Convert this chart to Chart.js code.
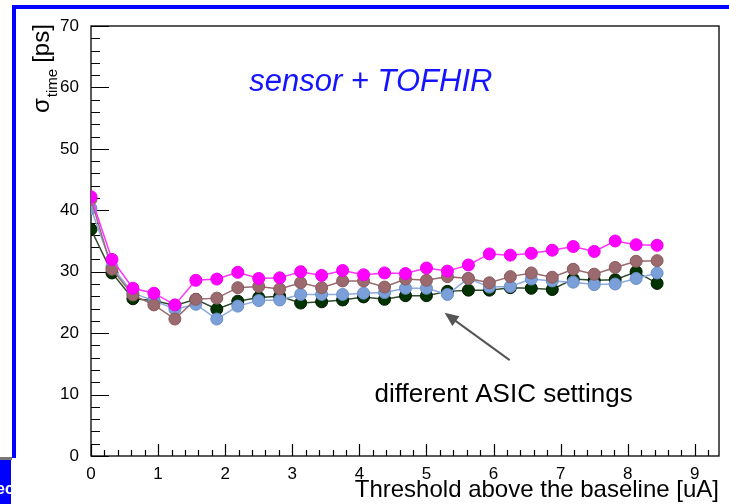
<!DOCTYPE html>
<html>
<head>
<meta charset="utf-8">
<script src="https://cdn.jsdelivr.net/npm/chart.js@4.4.1/dist/chart.umd.min.js"></script>
<style>
html, body { margin: 0; padding: 0; background: #fff; overflow: hidden; }
#wrap { position: relative; width: 729px; height: 504px; }
canvas { position: absolute; left: 0; top: 0; }
.bar { position: absolute; background: #0000ff; }
</style>
</head>
<body>
<div id="wrap">
  <canvas id="chart" width="729" height="504"></canvas>
  <div class="bar" style="left:12px;top:5px;width:717px;height:4px"></div>
  <div class="bar" style="left:12px;top:5px;width:4px;height:453px"></div>
  <div style="position:absolute;left:0;top:457px;width:12px;height:3px;background:#777"></div>
  <div class="bar" style="left:0;top:460px;width:11px;height:44px;overflow:hidden;color:#fff;font:bold 16px 'Liberation Sans';line-height:58px"><span style="position:relative;left:-4px">ec</span></div>
</div>
<script>
// threshold values (uA)
const thresholds = [0, 0.3125, 0.625, 0.9375, 1.25, 1.5625, 1.875, 2.1875, 2.5, 2.8125,
    3.125, 3.4375, 3.75, 4.0625, 4.375, 4.6875, 5, 5.3125, 5.625, 5.9375,
    6.25, 6.5625, 6.875, 7.1875, 7.5, 7.8125, 8.125, 8.4375];

// sigma_time (ps) for the four ASIC settings
const sigmaMagenta = [42.2, 32.0, 27.3, 26.5, 24.6, 28.6, 28.8, 29.9, 28.9, 29.0,
    30.0, 29.4, 30.2, 29.5, 29.8, 29.7, 30.6, 30.1, 31.1, 32.9,
    32.7, 33.0, 33.5, 34.1, 33.3, 35.0, 34.4, 34.3];
const sigmaBrown = [41.8, 30.4, 26.2, 24.6, 22.3, 25.5, 25.7, 27.4, 27.6, 27.2,
    28.2, 27.4, 28.5, 28.5, 27.5, 28.8, 28.6, 29.2, 28.9, 28.2,
    29.2, 29.8, 29.1, 30.4, 29.6, 30.7, 31.7, 31.8];
const sigmaBlue = [40.3, 30.8, 26.5, 25.3, 23.9, 24.7, 22.3, 24.4, 25.3, 25.4,
    26.3, 26.3, 26.3, 26.5, 26.6, 27.3, 27.3, 26.3, 28.9, 27.5,
    27.6, 28.8, 28.5, 28.3, 27.9, 28.0, 28.9, 29.8];
const sigmaGreen = [36.9, 29.8, 25.6, 25.3, 24.5, 25.5, 23.9, 25.2, 25.8, 26.0,
    24.9, 25.1, 25.4, 25.9, 25.5, 26.1, 26.1, 26.8, 27.0, 27.0,
    27.4, 27.3, 27.1, 28.8, 28.6, 28.7, 30.0, 28.1];

const xMin = 0, xMax = 9.36;
const yMin = 0, yMax = 70;

function series(values, color, line, edge) {
    return {
        data: thresholds.map((t, i) => ({ x: t, y: values[i] })),
        borderColor: line,
        backgroundColor: color,
        pointBackgroundColor: color,
        pointBorderColor: edge,
        pointBorderWidth: 1,
        pointRadius: 6,
        borderWidth: 1.5,
        tension: 0
    };
}

const font = "'Liberation Sans', Arial, sans-serif";

// ROOT style frame: inner ticks, titles, annotation
const rootFrame = {
    id: 'rootFrame',
    beforeDatasetsDraw(chart) {
        const { ctx, chartArea: a, scales: { x, y } } = chart;
        ctx.save();
        ctx.strokeStyle = '#000';
        ctx.lineWidth = 1.3;
        ctx.strokeRect(a.left, a.top, a.right - a.left, a.bottom - a.top);
        ctx.lineWidth = 1.2;
        ctx.beginPath();
        for (let i = 0; i * 0.2 <= xMax; i++) {
            const px = Math.round(x.getPixelForValue(i * 0.2)) + 0.5;
            const len = i % 5 === 0 ? 12 : 6;
            ctx.moveTo(px, a.bottom);
            ctx.lineTo(px, a.bottom - len);
        }
        for (let v = 0; v <= yMax; v += 2) {
            const py = Math.round(y.getPixelForValue(v)) + 0.5;
            const len = v % 10 === 0 ? 18 : 9;
            ctx.moveTo(a.left, py);
            ctx.lineTo(a.left + len, py);
        }
        ctx.stroke();
        ctx.restore();
    },
    afterDraw(chart) {
        const { ctx, chartArea: a, scales: { x, y } } = chart;
        ctx.save();
        // x title
        ctx.fillStyle = '#000';
        ctx.font = '24px ' + font;
        ctx.textAlign = 'right';
        ctx.textBaseline = 'alphabetic';
        ctx.fillText('Threshold above the baseline [uA]', a.right, 497);

        // y title, rotated
        ctx.translate(49, 113);
        ctx.rotate(-Math.PI / 2);
        ctx.textAlign = 'left';
        ctx.font = '24px ' + font;
        ctx.fillText('σ', 0, 0);
        let w = ctx.measureText('σ').width;
        ctx.font = '15px ' + font;
        ctx.fillText('time', w + 1, 8);
        w += ctx.measureText('time').width + 7;
        ctx.font = '24px ' + font;
        ctx.fillText('[ps]', w, 0);
        ctx.restore();

        ctx.save();
        // labels in the pad
        ctx.fillStyle = '#1414ff';
        ctx.font = 'italic 31px ' + font;
        ctx.textAlign = 'center';
        ctx.textBaseline = 'middle';
        ctx.fillText('sensor + TOFHIR', x.getPixelForValue(4.17), y.getPixelForValue(60.9));

        ctx.fillStyle = '#000';
        ctx.font = '26px ' + font;
        ctx.fillText('different ASIC settings', x.getPixelForValue(6.15), y.getPixelForValue(9.9));

        // arrow
        const x0 = x.getPixelForValue(6.24), y0 = y.getPixelForValue(15.6);
        const x1 = x.getPixelForValue(5.27), y1 = y.getPixelForValue(23.3);
        const ang = Math.atan2(y1 - y0, x1 - x0);
        ctx.strokeStyle = '#555';
        ctx.fillStyle = '#555';
        ctx.lineWidth = 2;
        ctx.beginPath();
        ctx.moveTo(x0, y0);
        ctx.lineTo(x1 - 8 * Math.cos(ang), y1 - 8 * Math.sin(ang));
        ctx.stroke();
        ctx.beginPath();
        ctx.moveTo(x1, y1);
        ctx.lineTo(x1 - 14 * Math.cos(ang) + 6 * Math.sin(ang), y1 - 14 * Math.sin(ang) - 6 * Math.cos(ang));
        ctx.lineTo(x1 - 14 * Math.cos(ang) - 6 * Math.sin(ang), y1 - 14 * Math.sin(ang) + 6 * Math.cos(ang));
        ctx.closePath();
        ctx.fill();
        ctx.restore();
    }
};

const ctx = document.getElementById('chart').getContext('2d');
new Chart(ctx, {
    type: 'line',
    data: {
        datasets: [
            series(sigmaMagenta, '#ff00ff', '#ff33ff', '#ee00ee'),
            series(sigmaBrown, '#9a6a6e', '#9a6a6e', '#8a5a5e'),
            series(sigmaBlue, '#7b9fd9', '#8aaae0', '#6a8ec8'),
            series(sigmaGreen, '#003300', '#2f4a2f', '#001800')
        ]
    },
    options: {
        responsive: false,
        animation: false,
        layout: { padding: { left: 0, top: 26, right: 10, bottom: 0 } },
        plugins: {
            legend: { display: false },
            tooltip: { enabled: false }
        },
        scales: {
            x: {
                type: 'linear',
                min: xMin,
                max: xMax,
                grid: { display: false },
                border: { display: false },
                ticks: {
                    stepSize: 1,
                    includeBounds: false,
                    padding: 0,
                    maxRotation: 0,
                    color: '#000',
                    font: { family: font, size: 17 }
                },
                afterFit(scale) { scale.height = 48; }
            },
            y: {
                min: yMin,
                max: yMax,
                grid: { display: false },
                border: { display: false },
                ticks: {
                    stepSize: 10,
                    padding: 4,
                    color: '#000',
                    font: { family: font, size: 17 }
                },
                afterFit(scale) { scale.width = 91; }
            }
        }
    },
    plugins: [rootFrame]
});
</script>
</body>
</html>
